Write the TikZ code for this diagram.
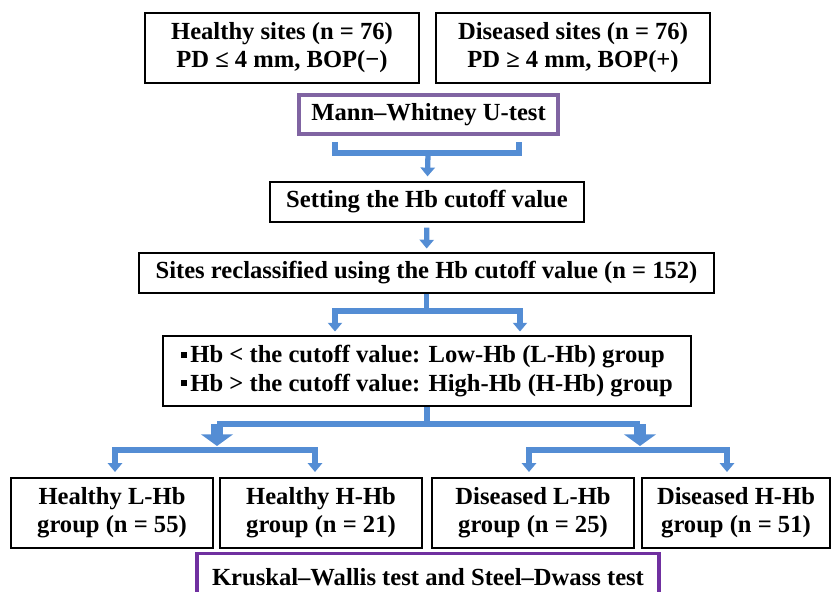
\documentclass[tikz,border=0pt]{standalone}
\usepackage{fontspec}
\setmainfont{Liberation Serif}
\usepackage{xcolor}
\usepackage{tikz}
\usetikzlibrary{positioning, arrows.meta}
\definecolor{flowblue}{RGB}{84,141,212}
\definecolor{testpurple}{RGB}{128,100,162}
\definecolor{kwpurple}{RGB}{112,48,160}
\newcommand{\sqbul}{\rule[0.2em]{0.24em}{0.24em}\hspace{0.14em}}
\tikzset{
  sitebox/.style={draw, line width=1.6pt, align=center, inner sep=0pt, font=\fontsize{21}{24}\selectfont\bfseries},
  testbox/.style={sitebox, line width=2.6pt},
  bracket/.style={draw=flowblue, line width=4.5pt},
  smallarrow/.style={bracket, -{Triangle[width=12pt,length=7.5pt]}},
  bigarrow/.style={draw=flowblue, line width=11pt, -{Triangle[width=27pt,length=10pt]}}
}

\begin{document}
\begin{tikzpicture}[x=0.03cm, y=-0.03cm]
\useasboundingbox (0,0) rectangle (832,592);
\clip (0,0) rectangle (832,592);
\node[sitebox, minimum width=8.22cm, minimum height=2.1cm] (healthy) at (282,48) {Healthy sites (n = 76)\\PD ≤ 4 mm, BOP(−)};
\node[sitebox, minimum width=8.22cm, minimum height=2.1cm] (diseased) at (573,48) {Diseased sites (n = 76)\\PD ≥ 4 mm, BOP(+)};
\node[testbox, draw=testpurple, minimum width=7.77cm, minimum height=1.17cm] (mwu) at (428.5,114.5) {Mann–Whitney U-test};
\node[sitebox, minimum width=9.42cm, minimum height=1.2cm] (cutoff) at (427,202) {Setting the Hb cutoff value};
\node[sitebox, minimum width=17.25cm, minimum height=1.2cm] (recl) at (426.5,273) {Sites reclassified using the Hb cutoff value (n = 152)};
\node[sitebox, align=left, minimum width=15.84cm, minimum height=2.1cm] (grp) at (427,371) {\sqbul Hb < the cutoff value: Low-Hb (L-Hb) group\\\sqbul Hb > the cutoff value: High-Hb (H-Hb) group};
\node[sitebox, minimum width=6.06cm, minimum height=2.1cm] (hl) at (112,513) {Healthy L-Hb\\group (n = 55)};
\node[sitebox, minimum width=6.06cm, minimum height=2.1cm] (hh) at (321,513) {Healthy H-Hb\\group (n = 21)};
\node[sitebox, minimum width=6.06cm, minimum height=2.1cm] (dl) at (533,513) {Diseased L-Hb\\group (n = 25)};
\node[sitebox, minimum width=5.64cm, minimum height=2.1cm] (dh) at (736,513) {Diseased H-Hb\\group (n = 51)};
\node[testbox, draw=kwpurple, minimum width=13.86cm, minimum height=1.4cm] (kw) at (428,577) {Kruskal–Wallis test and Steel–Dwass test};
% brackets
\coordinate (mwl) at (335,142);
\coordinate (mwr) at (519,142);
\coordinate (mwc) at (428,153);
\coordinate (rl) at (335,311);
\coordinate (rr) at (520,311);
\coordinate (gl) at (217,424);
\coordinate (gr) at (640,424);
\coordinate (glt) at (217,446);
\coordinate (grt) at (640,446);
\coordinate (sl) at (217,450);
\coordinate (sr) at (640,450);
\coordinate (hlt) at (115,472);
\coordinate (hht) at (315,472);
\coordinate (dlt) at (529,472);
\coordinate (dht) at (727,472);
\draw[bracket] (mwl) |- (mwc) -| (mwr);
\draw[smallarrow, shorten >=4pt] (mwc) -- (cutoff);
\draw[smallarrow, shorten <=4pt, shorten >=3pt] (cutoff) -- (recl);
\draw[smallarrow, shorten >=3pt] (recl.south) |- (rl) -- (rl |- grp.north);
\draw[smallarrow, shorten >=3pt] (recl.south) |- (rr) -- (rr |- grp.north);
\draw[bracket] (grp.south) |- (gl);
\draw[bracket] (grp.south) |- (gr);
\draw[bigarrow] (gl) -- (glt);
\draw[bigarrow] (gr) -- (grt);
\draw[smallarrow] (sl) -| (hlt);
\draw[smallarrow] (sl) -| (hht);
\draw[smallarrow] (sr) -| (dlt);
\draw[smallarrow] (sr) -| (dht);
\end{tikzpicture}
\end{document}
